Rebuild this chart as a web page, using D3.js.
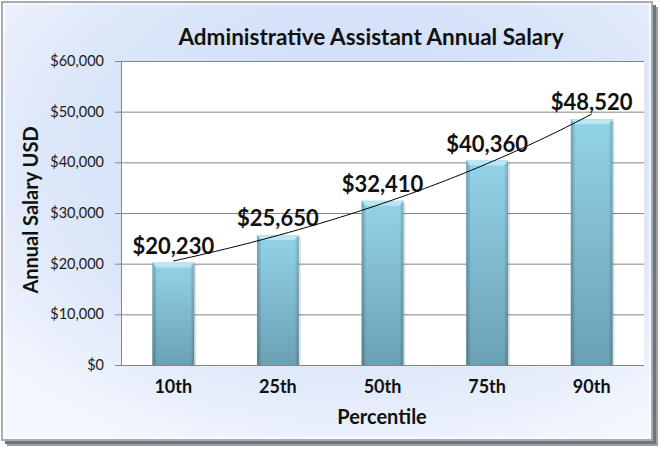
<!DOCTYPE html>
<html><head><meta charset="utf-8">
<script src="https://cdn.jsdelivr.net/npm/d3@7"></script>
<style>html,body{margin:0;padding:0;background:#fff;}svg{display:block;}</style>
</head><body>
<svg id="c" width="661" height="449"></svg>
<script>
const categories = ["10th","25th","50th","75th","90th"];
const salaries = [20230,25650,32410,40360,48520];
const yTicks = [0,10000,20000,30000,40000,50000,60000];
const title = "Administrative Assistant Annual Salary";
const xTitle = "Percentile";
const yTitle = "Annual Salary USD";

const svg = d3.select("#c");
const defs = svg.append("defs");
const font = "Lato, 'Open Sans', sans-serif";

const bg = defs.append("radialGradient").attr("id","bg").attr("cx","55%").attr("cy","35%").attr("r","75%");
bg.append("stop").attr("offset","0%").attr("stop-color","#c9daf6");
bg.append("stop").attr("offset","60%").attr("stop-color","#dbe6f9");
bg.append("stop").attr("offset","100%").attr("stop-color","#f4f7fe");

const bar = defs.append("linearGradient").attr("id","bar").attr("x1",0).attr("y1",0).attr("x2",0).attr("y2",1);
bar.append("stop").attr("offset","0%").attr("stop-color","#93d3e9");
bar.append("stop").attr("offset","100%").attr("stop-color","#6aa1b4");
const barSide = defs.append("linearGradient").attr("id","barSide").attr("x1",0).attr("y1",0).attr("x2",1).attr("y2",0);
barSide.append("stop").attr("offset","0%").attr("stop-color","#000").attr("stop-opacity",0.18);
barSide.append("stop").attr("offset","10%").attr("stop-color","#000").attr("stop-opacity",0);
barSide.append("stop").attr("offset","90%").attr("stop-color","#000").attr("stop-opacity",0);
barSide.append("stop").attr("offset","100%").attr("stop-color","#000").attr("stop-opacity",0.2);

svg.append("rect").attr("x",7).attr("y",7).attr("width",651).attr("height",439).attr("fill","#9a9ea6");
svg.append("rect").attr("x",5).attr("y",5).attr("width",651).attr("height",439).attr("fill","#6f737a");
svg.append("rect").attr("x",2).attr("y",2).attr("width",650).attr("height",438).attr("fill","url(#bg)")
  .attr("stroke","#a7abb2").attr("stroke-width",2);
svg.append("rect").attr("x",4).attr("y",4).attr("width",646).attr("height",434).attr("fill","none")
  .attr("stroke","#fff").attr("stroke-opacity",0.6).attr("stroke-width",2);

const m = {left:121, right:644, top:61, bottom:365};
const x = d3.scaleBand().domain(categories).range([m.left,m.right]).paddingInner(0.6).paddingOuter(0.3);
const y = d3.scaleLinear().domain([0,60000]).range([m.bottom,m.top]);

svg.append("rect").attr("x",m.left).attr("y",m.top).attr("width",m.right-m.left).attr("height",m.bottom-m.top).attr("fill","#fff");

const yAxis = d3.axisLeft(y).tickValues(yTicks).tickFormat(d=>"$"+d3.format(",")(d))
  .tickSize(-(m.right-m.left)).tickSizeOuter(0).tickPadding(17);
const ya = svg.append("g").attr("transform",`translate(${m.left},0)`).call(yAxis);
ya.select(".domain").attr("stroke","#868686");
ya.selectAll(".tick line").attr("stroke","#868686").attr("x1",-6);
ya.selectAll(".tick text").attr("font-family",font).attr("font-size",14.5).attr("fill","#1a1a1a");

const bw = x.bandwidth();
const g = svg.append("g");
categories.forEach((c,i)=>{
  const x0 = x(c), y0 = y(salaries[i]), h = y(0)-y0;
  g.append("rect").attr("x",x0+2).attr("y",y0+2).attr("width",bw).attr("height",h-2).attr("fill","#000").attr("opacity",0.12);
  g.append("rect").attr("x",x0).attr("y",y0).attr("width",bw).attr("height",h).attr("fill","url(#bar)");
  g.append("rect").attr("x",x0).attr("y",y0).attr("width",bw).attr("height",h).attr("fill","url(#barSide)");
  g.append("path").attr("d",`M${x0},${y0}L${x0+bw},${y0}L${x0+bw-4},${y0+5}L${x0+4},${y0+5}Z`).attr("fill","#b8e6f4");
  g.append("path").attr("d",`M${x0},${y0}L${x0+4},${y0+5}L${x0+4},${y(0)}L${x0},${y(0)}Z`).attr("fill","#000").attr("opacity",0.06);
});

svg.append("line").attr("x1",m.left).attr("x2",m.right).attr("y1",m.bottom+0.5).attr("y2",m.bottom+0.5).attr("stroke","#868686");

// exponential trendline (least squares fit on log values)
const n = salaries.length;
const xs = d3.range(n).map(i=>i+1);
const ls = salaries.map(v=>Math.log(v));
const mx = d3.mean(xs), ml = d3.mean(ls);
const b = d3.sum(xs.map((xv,i)=>(xv-mx)*(ls[i]-ml)))/d3.sum(xs.map(xv=>(xv-mx)**2));
const a = ml - b*mx;
const tpts = d3.range(1,n+0.001,0.05).map(t=>[t, Math.exp(a+b*t)]);
const xc = t => x(categories[0]) + bw/2 + (t-1)*x.step();
svg.append("path").attr("d",d3.line().x(d=>xc(d[0])).y(d=>y(d[1]))(tpts))
  .attr("fill","none").attr("stroke","#000").attr("stroke-width",1);

svg.append("g").selectAll("text").data(salaries).join("text")
  .attr("x",(d,i)=>x(categories[i])+bw/2).attr("y",d=>y(d)-9)
  .attr("text-anchor","middle").attr("font-family",font).attr("font-weight","bold").attr("font-size",22)
  .attr("fill","#111").text(d=>"$"+d3.format(",")(d));

svg.append("g").selectAll("text").data(categories).join("text")
  .attr("x",d=>x(d)+bw/2).attr("y",393).attr("text-anchor","middle")
  .attr("font-family",font).attr("font-weight","bold").attr("font-size",18).attr("fill","#111").text(d=>d);

svg.append("text").attr("x",382).attr("y",424).attr("text-anchor","middle")
  .attr("font-family",font).attr("font-weight","bold").attr("font-size",20).attr("fill","#111").text(xTitle);

svg.append("text").attr("transform","translate(38,210) rotate(-90)").attr("text-anchor","middle")
  .attr("font-family",font).attr("font-weight","bold").attr("font-size",20).attr("fill","#111").text(yTitle);

svg.append("text").attr("x",371).attr("y",45).attr("text-anchor","middle")
  .attr("font-family",font).attr("font-weight","bold").attr("font-size",22.5).attr("fill","#111").text(title);
</script>
</body></html>
